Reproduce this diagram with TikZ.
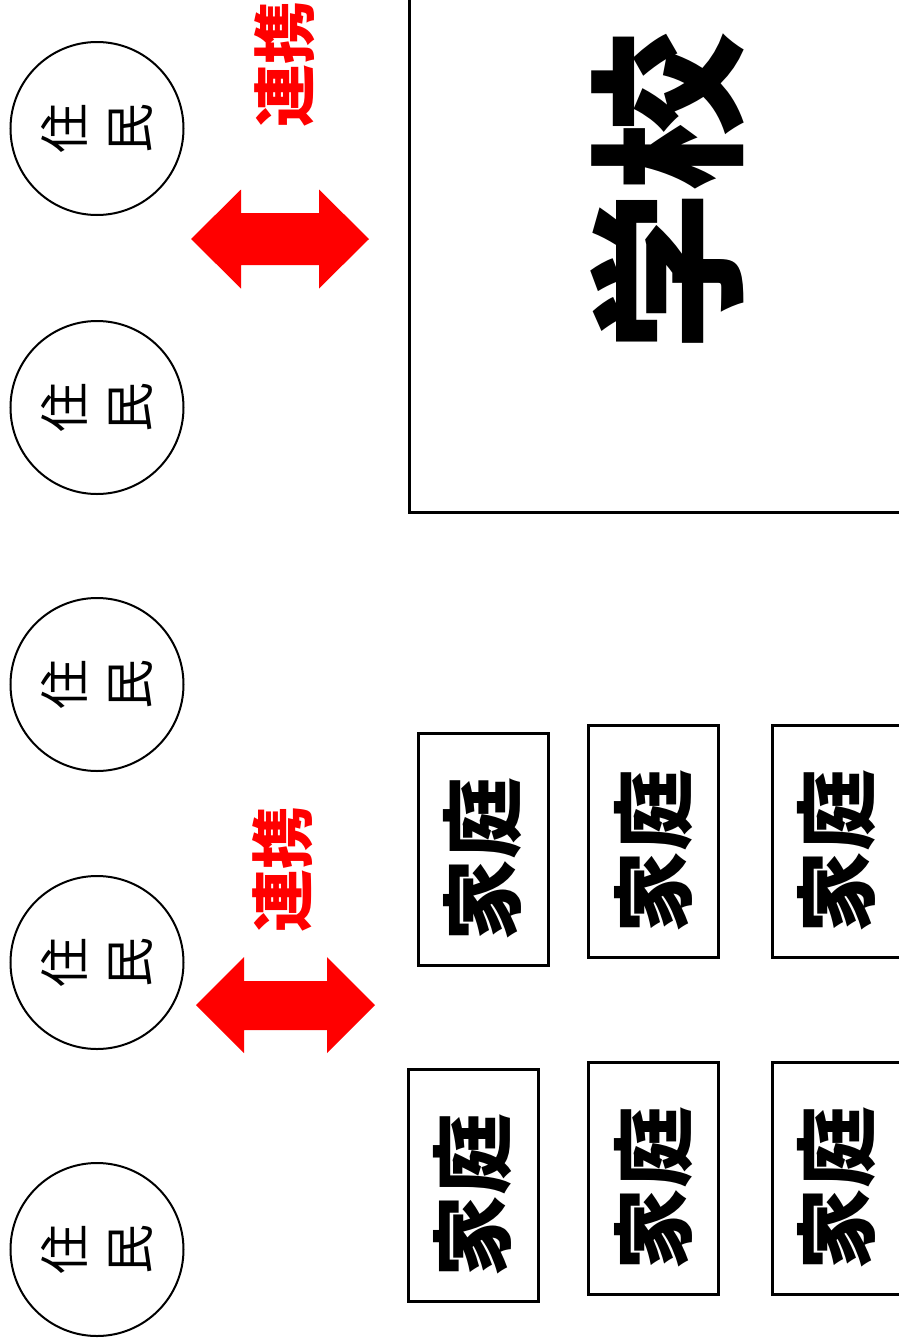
\documentclass[tikz,border=0pt]{standalone}
\usepackage{fontspec}
\newfontfamily\jp{Noto Sans CJK JP}
\begin{document}
\begin{tikzpicture}[x=1pt,y=-1pt,
  resident/.style={circle,draw,line width=2pt,minimum size=173pt,inner sep=0pt,
    font=\jp\fontsize{50}{65}\selectfont,align=center,rotate=90},
  famframe/.style={draw,line width=3pt,minimum width=130pt,minimum height=232pt,inner sep=0pt},
  famtext/.style={font=\jp\bfseries\fontsize{82}{82}\selectfont,rotate=90,inner sep=0pt},
  linktext/.style={font=\jp\bfseries\fontsize{63}{63}\selectfont,text=red,rotate=90,inner sep=0pt},
  schooltext/.style={font=\jp\bfseries\fontsize{160}{160}\selectfont,rotate=90,inner sep=0pt},
  redarrow/.style={fill=red}]
\clip (0,0) rectangle (899,1344);
\fill[white] (0,0) rectangle (899,1344);
% residents
\node[resident] (r1) at (97,128.5) {住\\民};
\node[resident] (r2) at (97,407.5) {住\\民};
\node[resident] (r3) at (97,684.5) {住\\民};
\node[resident] (r4) at (97,962.5) {住\\民};
\node[resident] (r5) at (97,1249.5) {住\\民};
% school
\node[draw,line width=3pt,minimum width=511pt,minimum height=532pt,inner sep=0pt] (school) at (664.5,246) {};
\node[schooltext] (schoollabel) at (667,191) {学校};
% link labels
\node[linktext] (link1) at (285,64) {連携};
\node[linktext] (link2) at (283,869) {連携};
% arrows
\fill[redarrow] (191,239) -- (241,189.5) -- (241,213) -- (319,213) -- (319,189.5) -- (369,239)
  -- (319,288.5) -- (319,265) -- (241,265) -- (241,288.5) -- cycle;
\fill[redarrow] (196,1005) -- (244,957) -- (244,981) -- (327,981) -- (327,957) -- (375,1005)
  -- (327,1053) -- (327,1030) -- (244,1030) -- (244,1053) -- cycle;
% families
\node[famframe] (f1) at (483,849) {};
\node[famframe] (f2) at (653.5,841) {};
\node[famframe] (f3) at (837,841) {};
\node[famframe] (f4) at (473,1185.5) {};
\node[famframe] (f5) at (653.5,1178.5) {};
\node[famframe] (f6) at (837,1178.5) {};
\node[famtext] (t1) at ([yshift=-10pt]f1.center) {家庭};
\node[famtext] (t2) at ([yshift=-10pt]f2.center) {家庭};
\node[famtext] (t3) at ([yshift=-10pt]f3.center) {家庭};
\node[famtext] (t4) at ([yshift=-10pt]f4.center) {家庭};
\node[famtext] (t5) at ([yshift=-10pt]f5.center) {家庭};
\node[famtext] (t6) at ([yshift=-10pt]f6.center) {家庭};
\end{tikzpicture}
\end{document}
